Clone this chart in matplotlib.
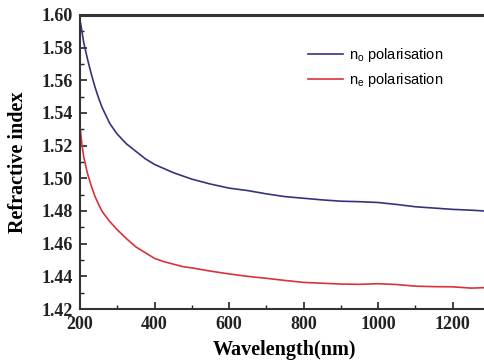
import matplotlib
matplotlib.use("Agg")
import matplotlib.pyplot as plt
from matplotlib.ticker import MultipleLocator

# wavelength (nm) and refractive index
wl_o = [200, 210, 220, 230, 240, 250, 260, 280, 300, 325, 350, 375, 400, 425, 450, 475, 500,
        550, 600, 650, 700, 750, 800, 850, 900, 950, 1000, 1050, 1100, 1150, 1200, 1250, 1300]
n_o = [1.597, 1.583, 1.573, 1.564, 1.556, 1.549, 1.543, 1.5335, 1.527, 1.521, 1.5165, 1.512,
       1.5085, 1.506, 1.5035, 1.5015, 1.4995, 1.4965, 1.494, 1.4925, 1.4905, 1.4888, 1.4878,
       1.4868, 1.486, 1.4857, 1.4852, 1.484, 1.4826, 1.4818, 1.481, 1.4805, 1.4798]

wl_e = [200, 205, 210, 220, 230, 240, 250, 260, 280, 300, 325, 350, 375, 400, 425, 450, 475,
        500, 550, 600, 650, 700, 750, 800, 850, 900, 950, 1000, 1050, 1100, 1150, 1200, 1250, 1300]
n_e = [1.531, 1.521, 1.513, 1.503, 1.4955, 1.489, 1.484, 1.4795, 1.4735, 1.4685, 1.463, 1.458,
       1.4545, 1.451, 1.449, 1.4475, 1.446, 1.4452, 1.4432, 1.4415, 1.440, 1.4388, 1.4375,
       1.4363, 1.4358, 1.4353, 1.4351, 1.4355, 1.435, 1.434, 1.4337, 1.4336, 1.4328, 1.4332]

plt.rcParams['font.family'] = 'Liberation Serif'
plt.rcParams['font.weight'] = 'bold'
plt.rcParams['mathtext.default'] = 'regular'

fig = plt.figure(figsize=(4.85, 3.64), dpi=100)
ax = fig.add_axes([0.165, 0.151, 0.845, 0.808])

ax.plot(wl_o, n_o, color='#34347e', lw=1.2, label=r'$n_o$ polarisation')
ax.plot(wl_e, n_e, color='#d8323c', lw=1.2, label=r'$n_e$ polarisation')

ax.set_xlim(200, 1300)
ax.set_ylim(1.42, 1.60)
ax.xaxis.set_major_locator(MultipleLocator(200))
ax.xaxis.set_minor_locator(MultipleLocator(100))
ax.yaxis.set_major_locator(MultipleLocator(0.02))
ax.yaxis.set_minor_locator(MultipleLocator(0.01))
ax.tick_params(which='both', direction='in', top=False, right=False, colors='#222222', labelsize=13)
ax.tick_params(which='major', length=5, width=1.2)
ax.tick_params(which='minor', length=3, width=1.0)
ax.tick_params(axis='x', which='major', pad=5)
ax.tick_params(axis='y', which='major', pad=5)

ax.spines['top'].set_linewidth(2.2)
ax.spines['left'].set_linewidth(1.5)
ax.spines['bottom'].set_linewidth(1.5)
for s in ax.spines.values():
    s.set_color('#333333')

ax.set_xlabel('Wavelength(nm)', fontsize=14.5, fontweight='bold', labelpad=5)
ax.set_ylabel('Refractive index', fontsize=14.5, fontweight='bold', labelpad=10)

leg = ax.legend(loc='upper left', bbox_to_anchor=(0.525, 0.94), frameon=False,
                prop={'family': 'Liberation Sans', 'weight': 'normal', 'size': 10.5},
                handlelength=2.4, handletextpad=0.4, labelspacing=0.5)

fig.savefig('out.png', dpi=100)
